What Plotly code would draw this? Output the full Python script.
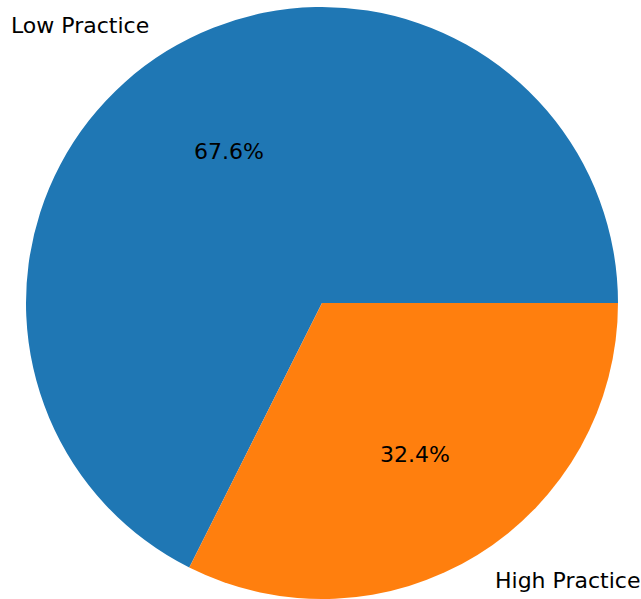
import math
import plotly.graph_objects as go

labels = ["Low Practice", "High Practice"]
values = [67.6, 32.4]
colors = ["#1f77b4", "#ff7f0e"]

W, H = 641, 599
cx, cy, R = 322, 303, 296

total = sum(values)
# matplotlib-style: first wedge starts at 3 o'clock, going counterclockwise.
# plotly (counterclockwise) begins drawing at rotation + first slice angle.
rotation = 90 - 360 * values[0] / total

fig = go.Figure(go.Pie(
    labels=labels, values=values, sort=False,
    direction="counterclockwise", rotation=rotation,
    marker=dict(colors=colors, line=dict(width=0)),
    textinfo="none", hoverinfo="label+percent", showlegend=False,
    domain=dict(x=[(cx - R) / W, (cx + R) / W], y=[1 - (cy + R) / H, 1 - (cy - R) / H]),
))

ann = []
start = 0.0
font = dict(family="DejaVu Sans", size=22, color="black")
for lab, v in zip(labels, values):
    frac = v / total
    mid = (start + frac / 2) * 2 * math.pi
    start += frac
    c, s = math.cos(mid), math.sin(mid)
    lx = cx + 1.1 * R * c
    ly = cy - 1.1 * R * s
    ann.append(dict(x=lx / W, y=1 - ly / H, xref="paper", yref="paper", text=lab,
                    showarrow=False, font=font,
                    xanchor="right" if c < 0 else "left", yanchor="middle"))
    px = cx + 0.6 * R * c
    py = cy - 0.6 * R * s
    ann.append(dict(x=px / W, y=1 - py / H, xref="paper", yref="paper",
                    text=f"{100 * frac:.1f}%", showarrow=False, font=font,
                    xanchor="center", yanchor="middle"))

fig.update_layout(width=W, height=H, margin=dict(l=0, r=0, t=0, b=0),
                  paper_bgcolor="white", plot_bgcolor="white", annotations=ann)
fig.write_html("out.html", config={"displayModeBar": False},
               post_script="document.body.style.margin='0px';")
